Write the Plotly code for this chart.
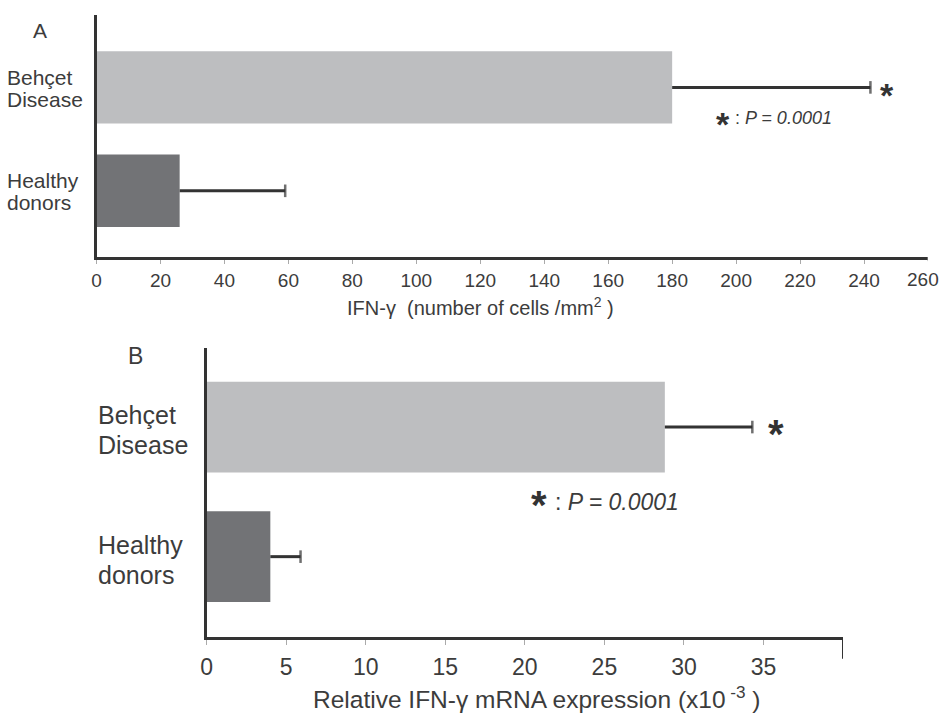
import plotly.graph_objects as go

# ---- data ----
groups = ["Healthy donors", "Behçet Disease"]
label_lines = [["Healthy", "donors"], ["Behçet", "Disease"]]
cells_mean = [26, 180]          # IFN-gamma cells / mm2
cells_err = [33, 62]
mrna_mean = [4.0, 28.8]         # relative mRNA (x10^-3)
mrna_err = [1.9, 5.5]
bar_colors = ["#727376", "#bdbec0"]
ticks_a = list(range(0, 261, 20))
ticks_b = list(range(0, 36, 5))

W, H = 942, 716
TXT = "#3c3c3c"
AX = "#333333"
FONT = "Liberation Sans, Arial, sans-serif"

fig = go.Figure()

fig.add_trace(go.Bar(
    x=cells_mean, y=groups, orientation="h", width=0.70,
    marker=dict(color=bar_colors, line=dict(width=0)),
    xaxis="x", yaxis="y", showlegend=False))
fig.add_trace(go.Bar(
    x=mrna_mean, y=groups, orientation="h", width=0.70,
    marker=dict(color=bar_colors, line=dict(width=0)),
    xaxis="x2", yaxis="y2", showlegend=False))

# one-sided error bars (line from bar end to mean+err, cap at the end)
for means, errs, xa, ya in [(cells_mean, cells_err, "x", "y"),
                            (mrna_mean, mrna_err, "x2", "y2")]:
    for g, m, e in zip(groups, means, errs):
        fig.add_trace(go.Scatter(
            x=[m, m + e], y=[g, g], mode="lines+markers",
            line=dict(color=AX, width=3),
            marker=dict(symbol="line-ns", size=[0, 9], color=AX,
                        line=dict(color=AX, width=2.5)),
            xaxis=xa, yaxis=ya, showlegend=False, hoverinfo="skip"))

ax_common = dict(showline=True, linecolor=AX, linewidth=3, showgrid=False,
                 zeroline=False, automargin=False)

fig.update_layout(
    width=W, height=H, margin=dict(l=0, r=0, t=0, b=0, autoexpand=False),
    paper_bgcolor="white", plot_bgcolor="white",
    font=dict(family=FONT, color=TXT),
    xaxis=dict(domain=[96.5 / W, 928 / W], range=[0, 260], anchor="y",
               tickvals=ticks_a[:-1], ticks="outside",
               ticklen=4, tickwidth=1,
               tickcolor="#aaaaaa", tickfont=dict(size=19, color=TXT),
               **ax_common),
    yaxis=dict(domain=[1 - 257 / H, 1 - 15 / H], range=[-0.64, 1.70],
               anchor="x", categoryorder="array", categoryarray=groups,
               showticklabels=False, ticks="", **ax_common),
    xaxis2=dict(domain=[206.7 / W, 843 / W], range=[0, 40], anchor="y2",
                tickvals=ticks_b, ticks="outside",
                ticklen=5, tickwidth=1, tickcolor="#aaaaaa",
                tickfont=dict(size=23, color=TXT), ticklabeloverflow="allow",
                ticklabelstandoff=2, **ax_common),
    yaxis2=dict(domain=[1 - 637 / H, 1 - 348 / H], range=[-0.62, 1.61],
                anchor="x2", categoryorder="array", categoryarray=groups,
                showticklabels=False, ticks="", **ax_common),
)

# end ticks of the axes
fig.add_shape(type="line", xref="x", yref="y domain", x0=ticks_a[-1],
              x1=ticks_a[-1], y0=0, y1=-0.017,
              line=dict(color="#aaaaaa", width=1))
fig.add_shape(type="line", xref="x2", yref="y2 domain", x0=40, x1=40,
              y0=0, y1=-0.075, line=dict(color=AX, width=2))

ann = []
# last tick label of panel A, kept inside the page edge
ann.append(dict(text=str(ticks_a[-1]), x=ticks_a[-1], xref="x",
                y=1 - 280 / H, yref="paper", xanchor="center",
                yanchor="middle", xshift=-5, showarrow=False,
                font=dict(size=19, color=TXT)))

# category labels (left aligned, one annotation per line)
for g, lines in zip(groups, label_lines):
    for i, word in enumerate(lines):
        ann.append(dict(text=word, x=5 / W, xref="paper", y=g, yref="y",
                        xanchor="left", yanchor="middle", showarrow=False,
                        yshift=10 - 22 * i, font=dict(size=21, color=TXT)))
        ann.append(dict(text=word, x=96 / W, xref="paper", y=g, yref="y2",
                        xanchor="left", yanchor="middle", showarrow=False,
                        yshift=12 - 30 * i, font=dict(size=25, color=TXT)))

# axis titles
ann.append(dict(text="IFN-\u03b3  (number of cells /mm<sup>2</sup> )",
                x=480 / W, y=1 - 306 / H, xref="paper", yref="paper",
                xanchor="center", yanchor="middle", showarrow=False,
                font=dict(size=20, color=TXT)))
ann.append(dict(text="Relative IFN-\u03b3 mRNA expression (x10<sup> -3</sup> )",
                x=537 / W, y=1 - 697 / H, xref="paper", yref="paper",
                xanchor="center", yanchor="middle", showarrow=False,
                font=dict(size=24.5, color=TXT)))

# panel letters
ann.append(dict(text="A", x=31 / W, y=1 - 30 / H, xref="paper", yref="paper",
                xanchor="left", yanchor="middle", showarrow=False,
                font=dict(size=21, color=TXT)))
ann.append(dict(text="B", x=126 / W, y=1 - 356 / H, xref="paper", yref="paper",
                xanchor="left", yanchor="middle", showarrow=False,
                font=dict(size=23, color=TXT)))

# significance stars at end of error bars
ann.append(dict(text="<b>*</b>", x=cells_mean[1] + cells_err[1], y=groups[1],
                xref="x", yref="y", xanchor="left", yanchor="middle",
                xshift=8, yshift=-8, showarrow=False,
                font=dict(size=34, color=AX)))
ann.append(dict(text="<b>*</b>", x=mrna_mean[1] + mrna_err[1], y=groups[1],
                xref="x2", yref="y2", xanchor="left", yanchor="middle",
                xshift=14, yshift=-7, showarrow=False,
                font=dict(size=40, color=AX)))

# p-value notes
ann.append(dict(text="<b>*</b>", x=714 / W, y=1 - 124 / H, xref="paper",
                yref="paper", xanchor="left", yanchor="middle",
                showarrow=False, font=dict(size=34, color=AX)))
ann.append(dict(text=": <i>P = 0.0001</i>", x=733 / W, y=1 - 118 / H,
                xref="paper", yref="paper", xanchor="left", yanchor="middle",
                showarrow=False, font=dict(size=18, color=TXT)))
ann.append(dict(text="<b>*</b>", x=529 / W, y=1 - 505 / H, xref="paper",
                yref="paper", xanchor="left", yanchor="middle",
                showarrow=False, font=dict(size=40, color=AX)))
ann.append(dict(text=": <i>P = 0.0001</i>", x=553 / W, y=1 - 502 / H,
                xref="paper", yref="paper", xanchor="left", yanchor="middle",
                showarrow=False, font=dict(size=23, color=TXT)))

fig.update_layout(annotations=ann)
fig.write_html("out.html", config={"displayModeBar": False},
               post_script="document.body.style.margin='0';"
                           "document.body.style.padding='0';")
